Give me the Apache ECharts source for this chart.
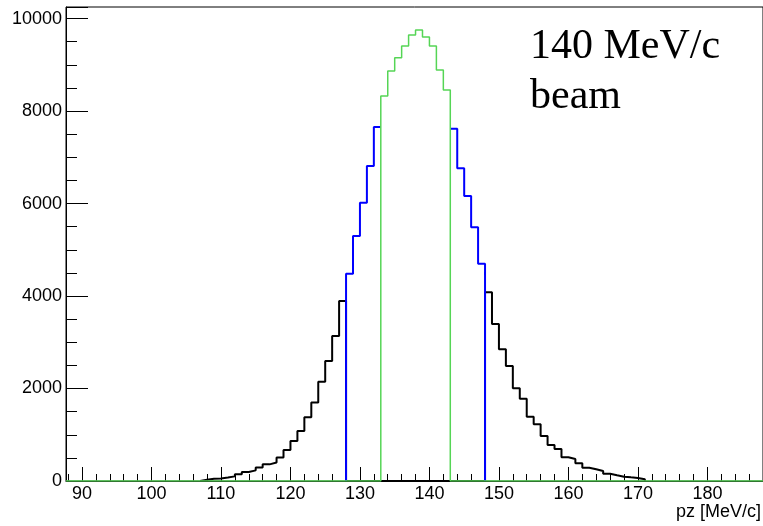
<!DOCTYPE html>
<html>
<head>
<meta charset="utf-8">
<script src="https://cdn.jsdelivr.net/npm/echarts@6/dist/echarts.min.js"></script>
<style>
  html, body { margin: 0; padding: 0; background: #fff; }
  #chart { width: 763px; height: 526px; }
</style>
</head>
<body>
<div id="chart"></div>
<script>
// Histogramas de pz (bins de 1 MeV/c), leidos de la figura
// null = bin no dibujado (tapado por otro histograma)
const blackStart = 107;
const blackCounts = [
  25, 50, 55, 75, 100, 145, 195, 230, 290, 360,
  400, 508, 670, 865, 1080, 1377, 1700, 2148, 2595, 3135,
  3892,
  0, 0, 0, 0, 0, 0, 0, 0, 0, 0, 0, 0, 0, 0, 0, 0, 0, 0, 0, 0,
  4080, 3395, 2847, 2486, 2004, 1780, 1391, 1225, 975, 778,
  692, 512, 476, 382, 288, 252, 216, 158, 123, 94,
  79, 65, 36
];
const blueStart = 128;
const blueCounts = [
  4483, 5297, 6018, 6811, 7654,
  null, null, null, null, null, null, null, null, null, null,
  7618, 6761, 6162, 5485, 4699
];
const greenStart = 133;
const greenCounts = [8324, 8865, 9153, 9405, 9643, 9751, 9600, 9405, 8886, 8454];

const xMin = 87.7, xMax = 188;
const yMax = 10250;
const xMajorTicks = [90, 100, 110, 120, 130, 140, 150, 160, 170, 180];
const xMinorTicks = [88, 92, 94, 96, 98, 102, 104, 106, 108, 112, 114, 116, 118,
  122, 124, 126, 128, 132, 134, 136, 138, 142, 144, 146, 148, 152, 154, 156, 158,
  162, 164, 166, 168, 172, 174, 176, 178, 182, 184, 186];

// puntos del contorno del histograma (step 'end')
function histPoints(start, counts, from, to) {
  const pts = [];
  let prev = null;
  if (from < start) pts.push([from, 0]);
  counts.forEach((c, i) => {
    const x = start + i;
    if (c === null) {
      if (prev !== null) { pts.push([x, prev]); pts.push(null); }
    } else {
      if (prev === null && i === 0) pts.push([x, 0]);
      pts.push([x, c]);
    }
    prev = c;
  });
  const end = start + counts.length;
  pts.push([end, 0]);
  if (to > end) pts.push([to, 0]);
  return pts;
}

const chart = echarts.init(document.getElementById('chart'));
const font = 'Liberation Sans, Arial, sans-serif';

const option = {
  animation: false,
  grid: {
    left: 66, top: 7, width: 699, bottom: 45,
    show: true, borderColor: '#000', borderWidth: 1
  },
  xAxis: [{
    type: 'value', min: xMin, max: xMax,
    splitLine: { show: false },
    axisLine: { lineStyle: { color: '#000', width: 1 } },
    axisTick: { inside: true, length: 14, customValues: xMajorTicks, lineStyle: { color: '#000' } },
    axisLabel: { customValues: xMajorTicks, color: '#000', fontSize: 18, fontFamily: font, margin: 4 }
  }, {
    type: 'value', min: xMin, max: xMax, position: 'bottom',
    splitLine: { show: false },
    axisLine: { show: false },
    axisTick: { inside: true, length: 7, customValues: xMinorTicks, lineStyle: { color: '#000' } },
    axisLabel: { show: false }
  }],
  yAxis: {
    type: 'value', min: 0, max: yMax, interval: 2000,
    splitLine: { show: false },
    axisLine: { show: true, lineStyle: { color: '#000', width: 1 } },
    axisTick: { show: true, inside: true, length: 22, lineStyle: { color: '#000' } },
    minorTick: { show: true, splitNumber: 4, length: 11, lineStyle: { color: '#000' } },
    axisLabel: { color: '#000', fontSize: 18, fontFamily: font, margin: 4, formatter: v => String(v) }
  },
  series: [{
    type: 'line', step: 'end', symbol: 'none', z: 2,
    data: histPoints(blackStart, blackCounts, blackStart, 0),
    lineStyle: { color: '#000', width: 2 }
  }, {
    type: 'line', step: 'end', symbol: 'none', z: 3, connectNulls: false,
    data: histPoints(blueStart, blueCounts, blueStart, 0),
    lineStyle: { color: '#0000ff', width: 2 }
  }, {
    type: 'line', step: 'end', symbol: 'none', z: 4,
    data: histPoints(greenStart, greenCounts, xMin, xMax),
    lineStyle: { color: '#55d555', width: 1.5 }
  }],
  graphic: [{
    type: 'text', left: 676, top: 503,
    style: { text: 'pz [MeV/c]', font: '18px ' + font, fill: '#000' }
  }, {
    type: 'text', left: 530, top: 22,
    style: { text: '140 MeV/c\nbeam', font: '42px "Liberation Serif", "Times New Roman", serif', lineHeight: 50, fill: '#000' }
  }]
};

chart.setOption(option);
</script>
</body>
</html>
